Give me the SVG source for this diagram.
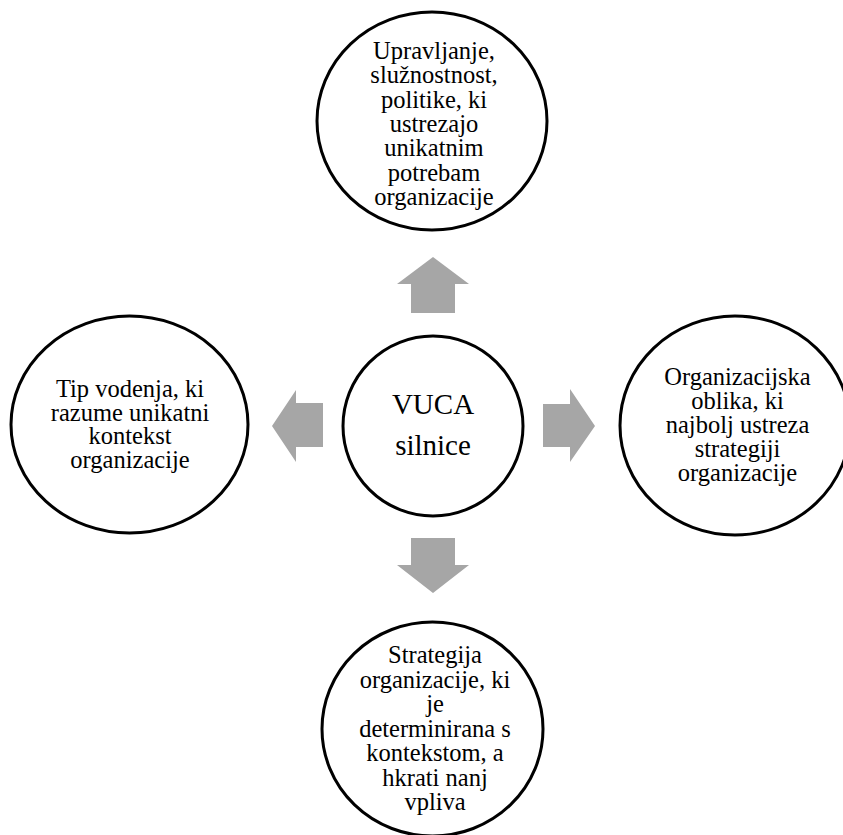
<svg xmlns="http://www.w3.org/2000/svg" width="843" height="835" viewBox="0 0 843 835">
<style>
.node{fill:#fff;stroke:#000;stroke-width:3}
.t{font-family:"Liberation Serif","Times New Roman",serif;font-size:24.5px;fill:#000;text-anchor:middle}
.c{font-size:29px}
.arr{fill:#a6a6a6}
</style>
<rect width="843" height="835" fill="#fff"/>
<g id="connectors">
<path class="arr" d="M433,257 L469,284 L455,284 L455,313 L411,313 L411,284 L397,284 Z"/>
<path class="arr" d="M433,593 L469,565 L455,565 L455,538 L411,538 L411,565 L397,565 Z"/>
<path class="arr" d="M272,426 L296,390 L296,403 L323,403 L323,447 L296,447 L296,462 Z"/>
<path class="arr" d="M595,426 L570,389 L570,404 L543,404 L543,447 L570,447 L570,462 Z"/>
</g>
<g id="center">
<circle class="node" cx="433" cy="426" r="90"/>
<text class="t c" x="433" y="414">VUCA</text>
<text class="t c" x="433" y="455">silnice</text>
</g>
<g id="top">
<ellipse class="node" cx="432" cy="121" rx="115" ry="109"/>
<text class="t"><tspan x="434" y="59">Upravljanje,</tspan><tspan x="434" y="83.3">služnostnost,</tspan><tspan x="434" y="107.6">politike, ki</tspan><tspan x="434" y="131.9">ustrezajo</tspan><tspan x="434" y="156.2">unikatnim</tspan><tspan x="434" y="180.5">potrebam</tspan><tspan x="434" y="204.8">organizacije</tspan></text>
</g>
<g id="left">
<ellipse class="node" cx="129.5" cy="424.5" rx="118.5" ry="108.5"/>
<text class="t"><tspan x="130" y="397">Tip vodenja, ki</tspan><tspan x="130" y="420.5">razume unikatni</tspan><tspan x="130" y="444">kontekst</tspan><tspan x="130" y="467.5">organizacije</tspan></text>
</g>
<g id="right">
<ellipse class="node" cx="735" cy="425.5" rx="115" ry="109.5"/>
<text class="t"><tspan x="737.5" y="385">Organizacijska</tspan><tspan x="737.5" y="409">oblika, ki</tspan><tspan x="737.5" y="433">najbolj ustreza</tspan><tspan x="737.5" y="457">strategiji</tspan><tspan x="737.5" y="481">organizacije</tspan></text>
</g>
<g id="bottom">
<ellipse class="node" cx="432.5" cy="729" rx="110.5" ry="107"/>
<text class="t"><tspan x="435" y="663">Strategija</tspan><tspan x="435" y="687.5">organizacije, ki</tspan><tspan x="435" y="712">je</tspan><tspan x="435" y="736.5">determinirana s</tspan><tspan x="435" y="761">kontekstom, a</tspan><tspan x="435" y="785.5">hkrati nanj</tspan><tspan x="435" y="810">vpliva</tspan></text>
</g>
</svg>
